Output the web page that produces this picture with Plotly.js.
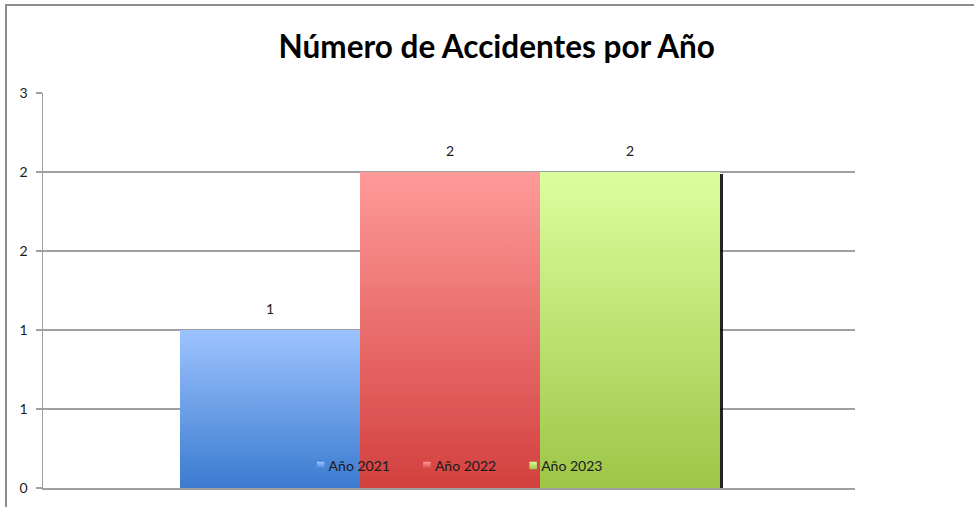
<!DOCTYPE html>
<html><head><meta charset="utf-8">
<script src="https://cdn.plot.ly/plotly-3.0.1.min.js"></script>
<style>
html,body{margin:0;padding:0;background:#fff;overflow:hidden}
#wrap{position:relative;width:974px;height:507px;overflow:hidden}
#chart{position:absolute;left:0;top:0;width:974px;height:507px}
#frame{position:absolute;left:5px;top:4px;width:1000px;height:600px;border-top:2px solid #8c8c8c;border-left:2px solid #8c8c8c;pointer-events:none}
</style></head><body>
<div id="wrap"><div id="chart"></div><div id="frame"></div></div>
<script>
const chartTitle = 'Número de Accidentes por Año';
const seriesNames = ['Año 2021', 'Año 2022', 'Año 2023'];
const accidentValues = [1, 2, 2];
const dataLabels = ['1', '2', '2'];
const yTickVals = [0, 0.5, 1, 1.5, 2, 2.5];
const yTickText = ['0', '1', '1', '2', '2', '3'];
const topColors = ['#9dc3ff', '#ff9a9a', '#dcff9e'];
const bottomColors = ['#3b7bcf', '#d3403e', '#9dc647'];
const midColors = ['#6c9fe7', '#e96d6c', '#bde273'];

const FONT = 'Lato, "Liberation Sans", sans-serif';
const GRID = '#a0a0a0';

const traces = seriesNames.map((n, i) => ({
  type: 'bar',
  name: n,
  x: [n],
  y: [accidentValues[i]],
  width: 1,
  cliponaxis: false,
  marker: {color: midColors[i], line: {width: 0}},
  hoverinfo: 'skip'
}));

const annotations = seriesNames.map((n, i) => ({
  x: n, y: accidentValues[i], xref: 'x', yref: 'y',
  text: dataLabels[i], showarrow: false,
  yanchor: 'bottom', yshift: 11,
  font: {family: FONT, size: 14, color: '#1a1a1a'}
}));

const layout = {
  width: 974, height: 507,
  margin: {l: 43, r: 119, t: 93, b: 19, pad: 0},
  paper_bgcolor: 'rgba(0,0,0,0)',
  plot_bgcolor: '#ffffff',
  barmode: 'overlay',
  bargap: 0,
  title: {
    text: chartTitle,
    font: {family: FONT, size: 31.5, color: '#000', weight: 'bold'},
    xref: 'container', x: 0.51, xanchor: 'center',
    yref: 'container', y: 0.907, yanchor: 'middle'
  },
  xaxis: {
    type: 'category',
    range: [-1.261, 3.25],
    showticklabels: false,
    ticks: '',
    showgrid: false,
    showline: true, linecolor: GRID, linewidth: 1.5,
    zeroline: false,
    fixedrange: true
  },
  yaxis: {
    range: [0, 2.5],
    tickmode: 'array',
    tickvals: yTickVals,
    ticktext: yTickText,
    ticks: 'outside', ticklen: 6, tickcolor: GRID, tickwidth: 1.5,
    ticklabelstandoff: 5,
    showgrid: true, gridcolor: GRID, gridwidth: 1.5,
    showline: true, linecolor: GRID, linewidth: 1.5,
    zeroline: false,
    tickfont: {family: FONT, size: 14, color: '#1a1a1a'},
    fixedrange: true
  },
  showlegend: true,
  legend: {
    orientation: 'h',
    x: 0.51, xanchor: 'center',
    y: 0.056, yanchor: 'middle',
    bgcolor: 'rgba(0,0,0,0)',
    font: {family: FONT, size: 14, color: '#1a1a1a'},
    traceorder: 'normal',
    itemclick: false, itemdoubleclick: false
  },
  annotations: annotations
};

const NS = 'http://www.w3.org/2000/svg';
function applyStyles(gd) {
  const svg = gd.querySelector('svg.main-svg');
  if (!svg) return;
  let defs = svg.querySelector('defs');
  if (!defs) { defs = document.createElementNS(NS, 'defs'); svg.insertBefore(defs, svg.firstChild); }
  if (!document.getElementById('grad0')) {
    seriesNames.forEach((n, i) => {
      const lg = document.createElementNS(NS, 'linearGradient');
      lg.setAttribute('id', 'grad' + i);
      lg.setAttribute('x1', '0'); lg.setAttribute('y1', '0');
      lg.setAttribute('x2', '0'); lg.setAttribute('y2', '1');
      [[0, topColors[i]], [1, bottomColors[i]]].forEach(([o, c]) => {
        const s = document.createElementNS(NS, 'stop');
        s.setAttribute('offset', o);
        s.setAttribute('stop-color', c);
        lg.appendChild(s);
      });
      defs.appendChild(lg);
    });
    const f = document.createElementNS(NS, 'filter');
    f.setAttribute('id', 'barshadow');
    f.setAttribute('x', '-5%'); f.setAttribute('y', '-5%');
    f.setAttribute('width', '120%'); f.setAttribute('height', '120%');
    const ds = document.createElementNS(NS, 'feDropShadow');
    ds.setAttribute('dx', '3'); ds.setAttribute('dy', '2');
    ds.setAttribute('stdDeviation', '0.4');
    ds.setAttribute('flood-color', '#000'); ds.setAttribute('flood-opacity', '0.85');
    f.appendChild(ds);
    defs.appendChild(f);
  }
  gd.querySelectorAll('.barlayer .trace').forEach((t, i) => {
    t.querySelectorAll('path').forEach(p => {
      p.style.fill = 'url(#grad' + i + ')';
      p.setAttribute('filter', 'url(#barshadow)');
    });
  });
  gd.querySelectorAll('.legend .traces').forEach((t, i) => {
    t.querySelectorAll('.legendpoints path').forEach(p => {
      p.style.fill = 'url(#grad' + i + ')';
      p.style.stroke = 'none';
      p.setAttribute('transform', 'translate(23,0) scale(0.62)');
    });
    const tx = t.querySelector('.legendtext');
    if (tx) tx.setAttribute('x', '31');
  });
}

const gd = document.getElementById('chart');
Plotly.newPlot(gd, traces, layout, {displayModeBar: false, staticPlot: true}).then(() => {
  applyStyles(gd);
  gd.on('plotly_afterplot', () => applyStyles(gd));
});
</script>
</body></html>
